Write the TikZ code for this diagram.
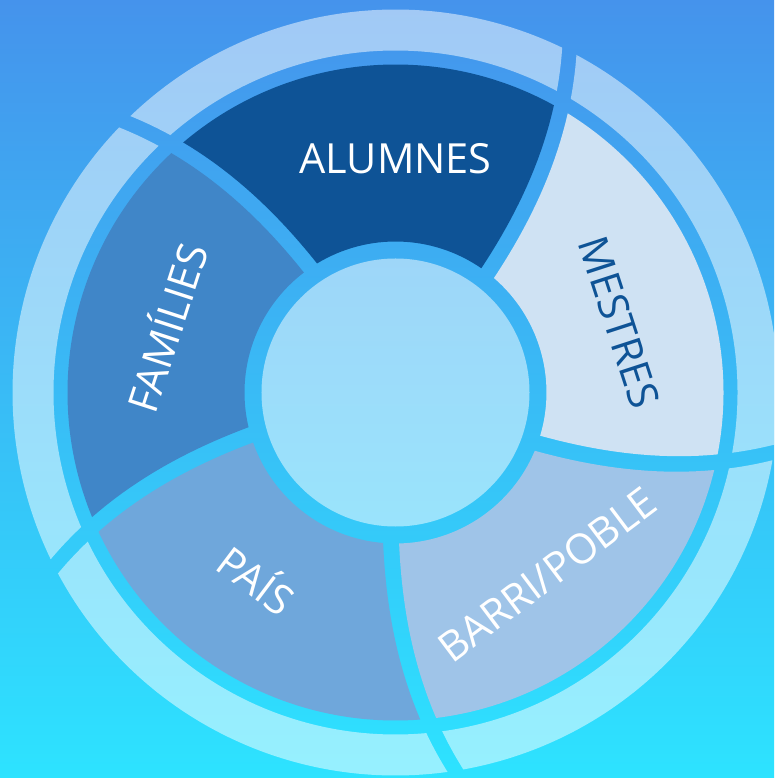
\documentclass[tikz,border=0pt]{standalone}
\usepackage{fontspec}
\setmainfont{Open Sans}
\usepackage{tikz}
\definecolor{fonsDalt}{RGB}{69,147,236}
\definecolor{fonsBaix}{RGB}{45,227,255}
\definecolor{blauFosc}{RGB}{14,83,150}
\definecolor{blauMestres}{RGB}{207,226,243}
\definecolor{blauBarri}{RGB}{159,196,232}
\definecolor{blauPais}{RGB}{111,167,219}
\definecolor{blauFamilies}{RGB}{64,134,200}

\begin{document}
\begin{tikzpicture}[x=1pt, y=1pt,
  declare function={gir(\r)=0.028*(\r-150)+0.77*((\r-150)/100)^2; mig(\r)=458.4/\r;},
  anell/.style={fill=white, fill opacity=0.5},
  etiqueta/.style={text=white, font=\fontsize{41.5}{50}\selectfont, inner sep=0pt, text height=29.6pt, text depth=0pt}]

% Fons
\useasboundingbox (-395.5,-385.5) rectangle (378.5,392.5);
\clip (-395.5,-385.5) rectangle (378.5,392.5);
\shade[top color=fonsDalt, bottom color=fonsBaix] (-395.5,-385.5) rectangle (378.5,392.5);

% Sectors i anell exterior
\foreach \b/\col in {52.3/blauFosc, -19.7/blauMestres, -91.7/blauBarri, -163.7/blauPais, -235.7/blauFamilies} {
  \fill[\col] plot[domain=151:328, samples=20] ({\b+gir(\x)+mig(\x)}:\x)
    arc[start angle={\b+gir(328)+mig(328)}, end angle={\b+72+gir(328)-mig(328)}, radius=328]
    -- plot[domain=328:151, samples=20] ({\b+72+gir(\x)-mig(\x)}:\x)
    arc[start angle={\b+72+gir(151)-mig(151)}, end angle={\b+gir(151)+mig(151)}, radius=151] -- cycle;
  \fill[anell] plot[domain=342:383, samples=10] ({\b+gir(\x)+mig(\x)}:\x)
    arc[start angle={\b+gir(383)+mig(383)}, end angle={\b+72+gir(383)-mig(383)}, radius=383]
    -- plot[domain=383:342, samples=10] ({\b+72+gir(\x)-mig(\x)}:\x)
    arc[start angle={\b+72+gir(342)-mig(342)}, end angle={\b+gir(342)+mig(342)}, radius=342] -- cycle;
}

% Cercle central
\fill[anell] (0,0) circle[radius=134];

% Etiquetes
\node[etiqueta] (alumnes) at (0,234) {ALUMNES};
\node[etiqueta, text=blauFosc, rotate=-72] (mestres) at (224,70) {MESTRES};
\node[etiqueta, rotate=37] (barri) at (152,-182) {BARRI/POBLE};
\node[etiqueta, rotate=-37] (pais) at (-140,-189) {PAÍS};
\node[etiqueta, rotate=72] (families) at (-227.5,64.5) {FAMÍLIES};
\end{tikzpicture}
\end{document}
